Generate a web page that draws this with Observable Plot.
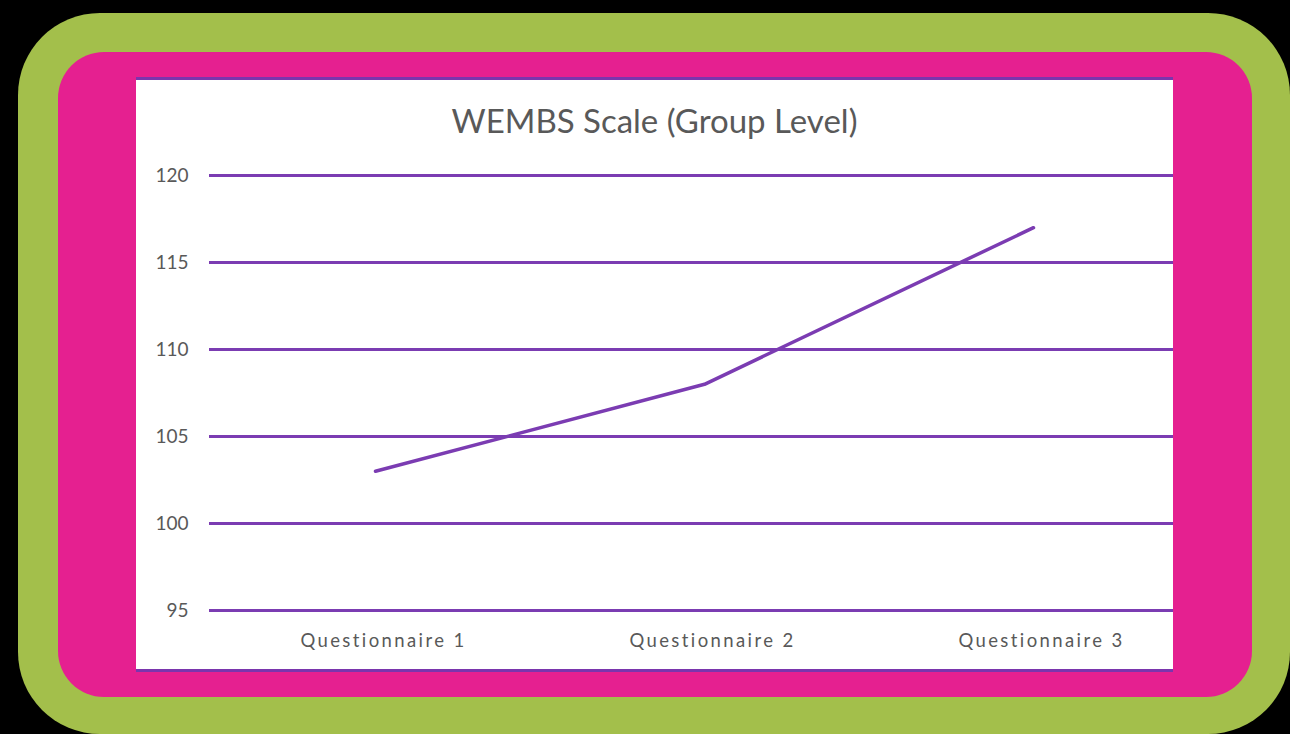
<!DOCTYPE html>
<html>
<head>
<meta charset="utf-8">
<script src="https://cdn.jsdelivr.net/npm/d3@7"></script>
<script src="https://cdn.jsdelivr.net/npm/@observablehq/plot@0.6"></script>
<style>
  html, body { margin: 0; padding: 0; background: #000; width: 1290px; height: 734px; overflow: hidden; }
  #green { position: absolute; left: 18px; top: 13px; width: 1272px; height: 721px; background: #a3bf4b; border-radius: 82px; }
  #pink { position: absolute; left: 58px; top: 52px; width: 1194px; height: 645px; background: #e52090; border-radius: 46px; }
  #white { position: absolute; left: 136px; top: 77px; width: 1037px; height: 595px; background: #fff; box-sizing: border-box; border-top: 3px solid #7a35ad; border-bottom: 3px solid #7a35ad; }
  #title { position: absolute; left: 0; width: 1037px; top: 20px; text-align: center; font-family: Lato, sans-serif; font-size: 33px; color: #595959; }
  #chart { position: absolute; left: 0; top: 70px; }
  #chart g[aria-label="x-axis tick label"] text { letter-spacing: 2.4px; }
</style>
</head>
<body>
<div id="green"></div>
<div id="pink"></div>
<div id="white">
  <div id="title">WEMBS Scale (Group Level)</div>
  <div id="chart"></div>
</div>
<script>
const categories = ["Questionnaire 1", "Questionnaire 2", "Questionnaire 3"];
const scores = [103, 108, 117];
const yTicks = [95, 100, 105, 110, 115, 120];

const data = categories.map((c, i) => ({category: c, score: scores[i]}));
const purple = "#7b3cb2";

const chart = Plot.plot({
  width: 1037,
  height: 520,
  marginLeft: 73,
  marginRight: 0,
  marginTop: 25,
  marginBottom: 60,
  style: {background: "transparent", fontFamily: "Lato, sans-serif", color: "#595959"},
  x: {type: "point", domain: categories, range: [239, 897], padding: 0, label: null},
  y: {domain: [95, 120], ticks: yTicks, label: null},
  marks: [
    Plot.ruleY(yTicks, {stroke: purple, strokeWidth: 3}),
    Plot.axisY({ticks: yTicks, tickSize: 0, tickPadding: 21, fontSize: 19, fill: "#595959", label: null}),
    Plot.axisX({tickSize: 0, tickPadding: 23, fontSize: 18.5, fill: "#595959", dx: 8, label: null}),
    Plot.line(data, {x: "category", y: "score", stroke: purple, strokeWidth: 3.5})
  ]
});
document.getElementById("chart").appendChild(chart);
</script>
</body>
</html>
